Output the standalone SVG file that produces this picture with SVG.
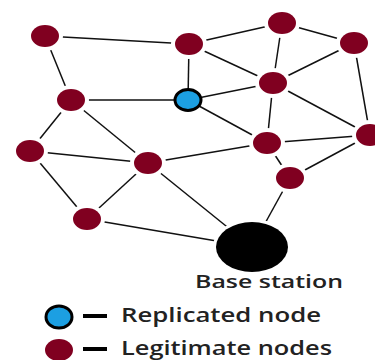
<svg xmlns="http://www.w3.org/2000/svg" width="375" height="360" viewBox="0 0 375 360">
<style>
.e{stroke:#111;stroke-width:1.5;fill:none}
.n{fill:#800020;stroke:#fff;stroke-width:8;paint-order:stroke}
.t{font-family:"Open Sans","Liberation Sans",sans-serif;fill:#222;font-weight:600}
</style>
<rect width="375" height="360" fill="#fff"/>
<g id="connectors">
<line class="e" x1="45" y1="36" x2="189" y2="44"/>
<line class="e" x1="45" y1="36" x2="71" y2="100"/>
<line class="e" x1="71" y1="100" x2="188" y2="100"/>
<line class="e" x1="71" y1="100" x2="30" y2="151"/>
<line class="e" x1="71" y1="100" x2="148" y2="163"/>
<line class="e" x1="30" y1="151" x2="148" y2="163"/>
<line class="e" x1="30" y1="151" x2="87" y2="219"/>
<line class="e" x1="148" y1="163" x2="267" y2="143"/>
<line class="e" x1="148" y1="163" x2="87" y2="219"/>
<line class="e" x1="148" y1="163" x2="252" y2="247"/>
<line class="e" x1="87" y1="219" x2="252" y2="247"/>
<line class="e" x1="189" y1="44" x2="188" y2="100"/>
<line class="e" x1="189" y1="44" x2="282" y2="23"/>
<line class="e" x1="189" y1="44" x2="273" y2="83"/>
<line class="e" x1="282" y1="23" x2="273" y2="83"/>
<line class="e" x1="282" y1="23" x2="354" y2="43"/>
<line class="e" x1="354" y1="43" x2="273" y2="83"/>
<line class="e" x1="354" y1="43" x2="370" y2="135"/>
<line class="e" x1="188" y1="100" x2="273" y2="83"/>
<line class="e" x1="188" y1="100" x2="267" y2="143"/>
<line class="e" x1="273" y1="83" x2="267" y2="143"/>
<line class="e" x1="273" y1="83" x2="370" y2="135"/>
<line class="e" x1="267" y1="143" x2="370" y2="135"/>
<line class="e" x1="267" y1="143" x2="290" y2="178"/>
<line class="e" x1="370" y1="135" x2="290" y2="178"/>
<line class="e" x1="290" y1="178" x2="252" y2="247"/>
</g>
<g id="nA"><ellipse class="n" cx="45" cy="36" rx="14" ry="11"/></g>
<g id="nE"><ellipse class="n" cx="189" cy="44" rx="14" ry="11"/></g>
<g id="nF"><ellipse class="n" cx="282" cy="23" rx="14" ry="11"/></g>
<g id="nG"><ellipse class="n" cx="354" cy="43" rx="14" ry="11"/></g>
<g id="nB"><ellipse class="n" cx="71" cy="100" rx="14" ry="11"/></g>
<g id="nR"><ellipse cx="188" cy="100" rx="13" ry="10.5" fill="#1c9fe2" stroke="#000" stroke-width="3"/></g>
<g id="nH"><ellipse class="n" cx="273" cy="83" rx="14" ry="11"/></g>
<g id="nC"><ellipse class="n" cx="30" cy="151" rx="14" ry="11"/></g>
<g id="nD"><ellipse class="n" cx="148" cy="163" rx="14" ry="11"/></g>
<g id="nI"><ellipse class="n" cx="267" cy="143" rx="14" ry="11"/></g>
<g id="nJ"><ellipse class="n" cx="370" cy="135" rx="14" ry="11"/></g>
<g id="nK"><ellipse class="n" cx="290" cy="178" rx="14" ry="11"/></g>
<g id="nL"><ellipse class="n" cx="87" cy="219" rx="14" ry="11"/></g>
<g id="base">
<ellipse cx="252" cy="247" rx="36" ry="25" fill="#000" stroke="#fff" stroke-width="6" paint-order="stroke"/>
<text class="t" x="195" y="288" font-size="18" textLength="148" lengthAdjust="spacingAndGlyphs">Base station</text>
</g>
<g id="legend">
<ellipse cx="59" cy="317" rx="13" ry="11" fill="#1c9fe2" stroke="#000" stroke-width="3"/>
<rect x="83" y="314" width="24" height="4" fill="#000"/>
<text class="t" x="121" y="322" font-size="20" textLength="200" lengthAdjust="spacingAndGlyphs">Replicated node</text>
<ellipse cx="59" cy="350" rx="14" ry="11" fill="#800020"/>
<rect x="83" y="347" width="24" height="4" fill="#000"/>
<text class="t" x="121" y="355" font-size="20" textLength="211" lengthAdjust="spacingAndGlyphs">Legitimate nodes</text>
</g>
</svg>
